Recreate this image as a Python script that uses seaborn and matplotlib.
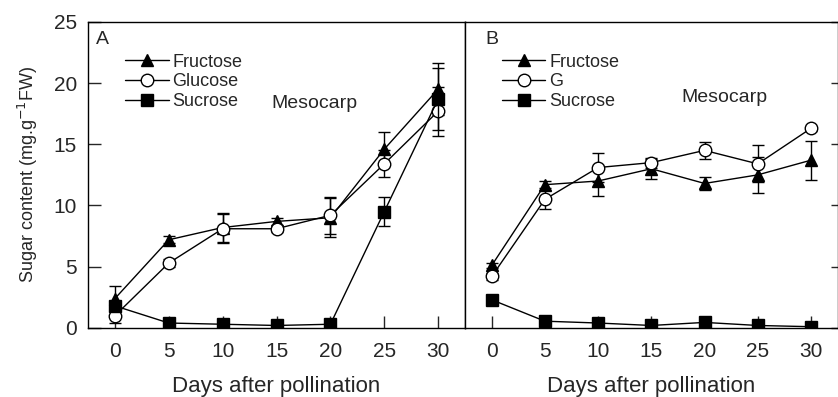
import numpy as np
import pandas as pd
import matplotlib
matplotlib.use("Agg")
import matplotlib.pyplot as plt
import seaborn as sns

days = [0, 5, 10, 15, 20, 25, 30]

# Panel A
a_fru = [2.4, 7.2, 8.2, 8.7, 9.0, 14.6, 19.5]
a_fru_err = [1.0, 0.3, 1.2, 0.3, 1.6, 1.4, 2.1]
a_glu = [1.0, 5.3, 8.1, 8.1, 9.2, 13.4, 17.7]
a_glu_err = [0.6, 0.3, 1.2, 0.3, 1.5, 1.1, 2.0]
a_suc = [1.8, 0.4, 0.3, 0.2, 0.3, 9.5, 18.7]
a_suc_err = [0.3, 0.1, 0.1, 0.1, 0.1, 1.2, 2.5]

# Panel B
b_fru = [5.1, 11.7, 12.0, 13.0, 11.8, 12.5, 13.7]
b_fru_err = [0.2, 0.3, 1.2, 0.8, 0.5, 1.5, 1.6]
b_glu = [4.2, 10.5, 13.1, 13.5, 14.5, 13.4, 16.3]
b_glu_err = [0.3, 0.8, 1.2, 0.4, 0.7, 1.5, 0.2]
b_suc = [2.3, 0.55, 0.4, 0.2, 0.45, 0.2, 0.1]
b_suc_err = [0.1, 0.1, 0.2, 0.2, 0.1, 0.2, 0.2]

labels_a = ["Fructose", "Glucose", "Sucrose"]
labels_b = ["Fructose", "G", "Sucrose"]

sns.set_style("ticks")
plt.rcParams['font.family'] = ['Liberation Sans', 'DejaVu Sans']

fig = plt.figure(figsize=(8.38, 3.97), dpi=100)
axA = fig.add_axes([0.105, 0.174, 0.450, 0.771])
axB = fig.add_axes([0.555, 0.174, 0.4445, 0.771])


def draw(ax, fru, fe, glu, ge, suc, se, labels):
    series = [
        (fru, fe, '^', 'black', labels[0]),
        (glu, ge, 'o', 'white', labels[1]),
        (suc, se, 's', 'black', labels[2]),
    ]
    for i, (vals, errs, mk, fc, lab) in enumerate(series):
        ax.errorbar(days, vals, yerr=errs, fmt='none', ecolor='black',
                    elinewidth=1, capsize=4, capthick=1, zorder=2 + i)
        sns.lineplot(x=days, y=vals, ax=ax, color='black', linewidth=1,
                     marker=mk, markersize=9 if mk != 's' else 8,
                     markerfacecolor=fc, markeredgecolor='black',
                     markeredgewidth=1, label=lab, zorder=3 + i)
    ax.set_xlim(-2.5, 32.5)
    ax.set_ylim(0, 25)
    ax.set_xticks(days)
    ax.set_xticklabels([str(d) for d in days])
    ax.tick_params(axis='x', direction='in', length=9, width=1,
                   labelsize=15, pad=10)
    for s in ax.spines.values():
        s.set_visible(True)
        s.set_linewidth(1)
        s.set_color('black')
    ax.set_xlabel("Days after pollination", fontsize=16, labelpad=11)
    ax.legend(loc='upper left', frameon=False, fontsize=13,
              handlelength=2.4, handletextpad=0.2, labelspacing=0.15,
              borderaxespad=0, bbox_to_anchor=(0.08, 0.92), numpoints=1)


draw(axA, a_fru, a_fru_err, a_glu, a_glu_err, a_suc, a_suc_err, labels_a)
draw(axB, b_fru, b_fru_err, b_glu, b_glu_err, b_suc, b_suc_err, labels_b)

axA.set_yticks([0, 5, 10, 15, 20, 25])
axA.tick_params(axis='y', direction='in', length=9, width=1,
                labelsize=15, pad=8)
axA.set_ylabel("Sugar content (mg.g$^{-1}$FW)", fontsize=13, labelpad=10)

axB.set_yticks([0, 5, 10, 15, 20, 25])
axB.tick_params(axis='y', left=False, labelleft=False, right=True,
                labelright=False, direction='in', length=5, width=1)
axB.set_ylabel("")

axA.text(0.022, 0.97, "A", transform=axA.transAxes, fontsize=14,
         va='top', ha='left')
axB.text(0.055, 0.97, "B", transform=axB.transAxes, fontsize=14,
         va='top', ha='left')
axA.text(0.60, 0.732, "Mesocarp", transform=axA.transAxes, fontsize=14,
         va='center', ha='center')
axB.text(0.697, 0.752, "Mesocarp", transform=axB.transAxes, fontsize=14,
         va='center', ha='center')

fig.savefig("out.png", dpi=100)
